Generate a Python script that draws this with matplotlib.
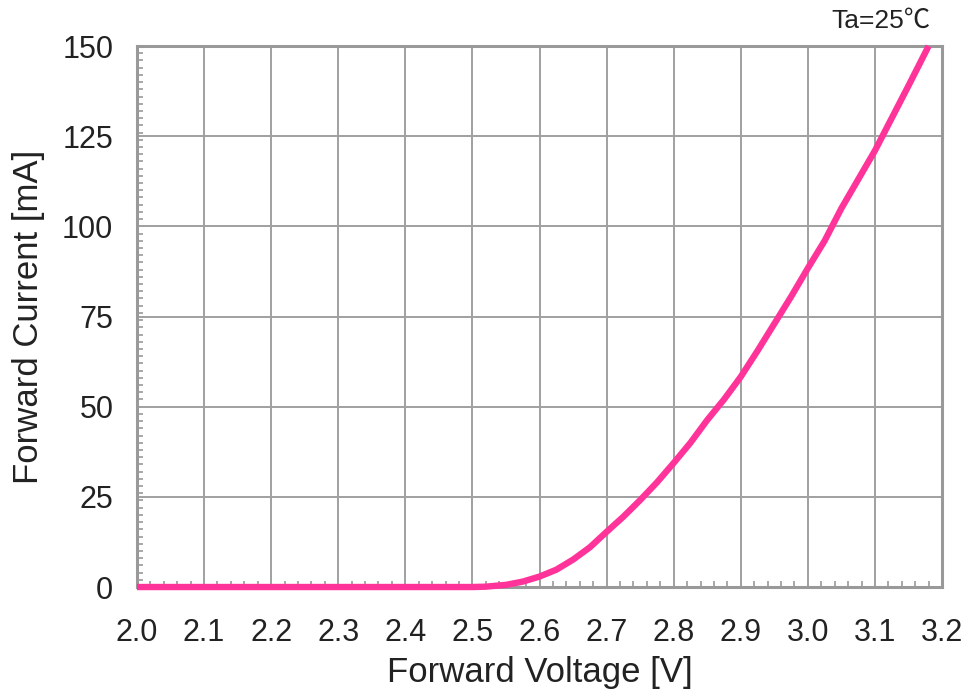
import matplotlib
matplotlib.use("Agg")
import matplotlib.pyplot as plt
from matplotlib.ticker import MultipleLocator, FixedLocator

voltage = [2.0, 2.5, 2.52, 2.55, 2.575, 2.6, 2.625, 2.65, 2.675, 2.7, 2.725, 2.75,
           2.775, 2.8, 2.825, 2.85, 2.875, 2.9, 2.925, 2.95, 2.975, 3.0, 3.025,
           3.05, 3.075, 3.1, 3.125, 3.15, 3.18]
current = [0, 0, 0.1, 0.6, 1.5, 2.9, 4.8, 7.6, 11, 15.3, 19.5, 24.1,
           29, 34.4, 40, 46.3, 52, 58.3, 65.5, 73, 80.5, 88.4, 96,
           105, 113, 121, 130, 139, 150]
x_ticks = [2.0, 2.1, 2.2, 2.3, 2.4, 2.5, 2.6, 2.7, 2.8, 2.9, 3.0, 3.1, 3.2]
y_ticks = [0, 25, 50, 75, 100, 125, 150]

plt.rcParams['font.family'] = ['Liberation Sans', 'Noto Sans CJK JP', 'DejaVu Sans']

fig = plt.figure(figsize=(9.66, 6.92), dpi=100)
ax = fig.add_axes([0.1418, 0.1517, 0.9752 - 0.1418, 0.9335 - 0.1517])

ax.plot(voltage, current, color='#ff3399', lw=4.6, solid_capstyle='butt',
        clip_on=False, zorder=5)

ax.set_xlim(2.0, 3.2)
ax.set_ylim(0, 150)
ax.xaxis.set_major_locator(FixedLocator(x_ticks))
ax.yaxis.set_major_locator(FixedLocator(y_ticks))
ax.set_xticklabels([f"{v:.1f}" for v in x_ticks])
ax.set_yticklabels([str(v) for v in y_ticks])
ax.xaxis.set_minor_locator(MultipleLocator(0.02))
ax.yaxis.set_minor_locator(MultipleLocator(2))

ax.grid(True, which='major', color='#a0a0a0', lw=1.4)
ax.set_axisbelow(True)
for s in ax.spines.values():
    s.set_color('#999999')
    s.set_linewidth(2.2)

ax.tick_params(which='major', length=0, labelsize=22, labelcolor='#222222')
ax.tick_params(axis='x', which='major', pad=22)
ax.tick_params(axis='y', which='major', pad=17)
ax.tick_params(which='minor', direction='in', length=4.5, width=1.2, color='#999999')

ax.set_xlabel('Forward Voltage [V]', fontsize=25, color='#222222', labelpad=6)
ax.set_ylabel('Forward Current [mA]', fontsize=25, color='#222222', labelpad=12)

fig.text(0.963, 0.970, 'Ta=25℃', ha='right', va='center', fontsize=19, color='#222222')

fig.savefig('out.png', dpi=100)
